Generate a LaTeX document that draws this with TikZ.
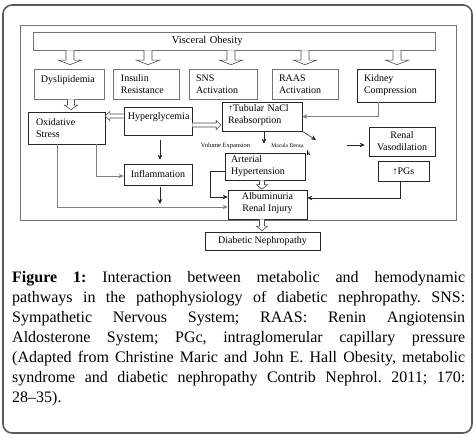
\documentclass[tikz,border=0pt]{standalone}
\usepackage{fontspec}
\setmainfont{Liberation Serif}
\usetikzlibrary{arrows.meta,calc}
\newcommand\hdown[5]{\draw[hol] let \p1=(#1), \p2=(#2) in (\x1-#3pt,\y1) -- (\x1-#3pt,\y2+#5pt+4.5pt) -- (\x1-#4pt,\y2+#5pt+4.5pt) -- (\x1,\y2+#5pt) -- (\x1+#4pt,\y2+#5pt+4.5pt) -- (\x1+#3pt,\y2+#5pt+4.5pt) -- (\x1+#3pt,\y1);}
\newcommand\hleft[5]{\draw[hol] let \p1=(#1), \p2=(#2) in (\x1,\y1+#3pt) -- (\x2+#5pt+4.5pt,\y1+#3pt) -- (\x2+#5pt+4.5pt,\y1+#4pt) -- (\x2+#5pt,\y1) -- (\x2+#5pt+4.5pt,\y1-#4pt) -- (\x2+#5pt+4.5pt,\y1-#3pt) -- (\x1,\y1-#3pt);}
\newcommand\hright[5]{\draw[hol] let \p1=(#1), \p2=(#2) in (\x1,\y1+#3pt) -- (\x2-#5pt-4.5pt,\y1+#3pt) -- (\x2-#5pt-4.5pt,\y1+#4pt) -- (\x2-#5pt,\y1) -- (\x2-#5pt-4.5pt,\y1-#4pt) -- (\x2-#5pt-4.5pt,\y1-#3pt) -- (\x1,\y1-#3pt);}
\newcommand\rais[2]{\raisebox{#1}[\height][\depth]{#2}}
\tikzset{
  box/.style={draw=black!85, line width=0.6pt, inner sep=0pt, font=\fontsize{10}{12}\selectfont},
  gbox/.style={box, draw=black!55},
  arr/.style={-{Stealth[length=5pt,width=4.5pt]}, line width=0.6pt, draw=black!85},
  garr/.style={arr, draw=black!50},
  hol/.style={draw=black!70, line width=0.6pt, fill=white},
  small/.style={inner sep=0pt, font=\fontsize{6.5}{7}\selectfont},
}
\begin{document}
\begin{tikzpicture}[x=1pt,y=-1pt]
\useasboundingbox (0,0) rectangle (475,438);
% frames
\draw[draw=black!65, line width=1.6pt, rounded corners=9pt] (3,5) rectangle (472,433);
\draw[draw=black!55, line width=0.7pt] (20,25) rectangle (456,220);
% top box
\node[gbox, minimum width=402, minimum height=18, text width=402, align=left, font=\fontsize{10.5}{12}\selectfont] (visc) at (234,41) {\hspace*{139pt}Visceral Obesity};
% row 2
\node[gbox, minimum width=70, minimum height=30, text width=56, align=left] (dys) at (69,84) {\rais{3.5pt}{Dyslipidemia}};
\node[gbox, minimum width=66, minimum height=30, text width=50, align=left] (ins) at (146,84) {Insulin\\Resistance};
\node[gbox, minimum width=68, minimum height=30, text width=54, align=left] (sns) at (223,84) {SNS\\Activation};
\node[gbox, minimum width=66, minimum height=30, text width=52, align=left] (raas) at (305,84) {RAAS\\Activation};
\node[box, minimum width=78, minimum height=33, text width=64, align=left] (kid) at (396,85.5) {Kidney\\Compression};
% row 3
\node[box, minimum width=77, minimum height=32, text width=61, align=left] (ox) at (66.5,128) {Oxidative\\Stress};
\node[box, minimum width=68, minimum height=28, text width=60, align=left] (hyp) at (158,121) {\rais{3.5pt}{Hyperglycemia}};
\node[box, minimum width=80, minimum height=29, text width=68, align=left] (tub) at (262,116.5) {\rais{1pt}{↑Tubular NaCl}\\\rais{1pt}{Reabsorption}};
\node[box, minimum width=66, minimum height=29, align=center] (ren) at (402,141.5) {Renal\\Vasodilation};
\node[box, minimum width=51, minimum height=20, align=center] (pgs) at (403.5,171) {↑PGs};
\node[box, minimum width=68, minimum height=21, align=center] (infl) at (158,174.5) {Inflammation};
\node[box, minimum width=80, minimum height=27, text width=68, align=left] (art) at (265,166.5) {Arterial\\Hypertension};
\node[box, minimum width=79, minimum height=29, align=center] (alb) at (267.5,204.5) {\rais{1.5pt}{Albuminuria}\\\rais{1.5pt}{Renal Injury}};
\node[box, minimum width=115, minimum height=18, align=center] (dn) at (262.5,241) {Diabetic Nephropathy};
% small labels
\node[small, anchor=base] (ve) at (225.5,147.5) {Volume Expansion};
\node[small, anchor=base, font=\fontsize{5.6}{6}\selectfont] (mdl) at (287.5,147.5) {Macula Densa};
\node[small, anchor=base, font=\fontsize{7}{7}\selectfont\bfseries] (kk) at (308.5,156) {k};
% hollow arrows
\hdown{visc.south -| 70,0}{dys.north}{4}{11.5}{4}
\hdown{visc.south -| 148,0}{ins.north}{4}{11.5}{4}
\hdown{visc.south -| 231,0}{sns.north}{4}{11.5}{4}
\hdown{visc.south -| 305,0}{raas.north}{4}{11.5}{4}
\hdown{visc.south -| 397,0}{kid.north}{4}{11.5}{4}
\hdown{dys.south -| 71,0}{ox.north}{3.5}{6.5}{2}
\hleft{hyp.west |- 0,116}{ox.east}{2}{4.5}{0}
\hright{hyp.east |- 0,125}{tub.west}{2}{4.5}{1}
\hdown{art.south -| 262,0}{alb.north}{2.5}{5.5}{0.5}
\hdown{alb.south -| 262,0}{dn.north}{2.5}{5.5}{1}
% connectors
\draw[garr] (kid.south -| 378,0) |- (tub.east);
\draw[arr, shorten >=9pt] (tub.south -| 264,0) -- (art.north -| 264,0);
\coordinate (mdt) at (316,140);
\draw[arr] (tub.south east) -- (mdt);
\coordinate (rv0) at (347,145);
\draw[arr, shorten >=4pt] (rv0) -- (ren.west |- rv0);
\draw[arr] (pgs.south -| 400,0) |- (alb.east |- 0,198);
\draw[arr] (art.west |- 0,171) -- (210,171) |- (alb.west |- 0,197);
\draw[garr] (ox.south -| 96,0) |- (infl.west |- 0,176);
\draw[garr] (ox.south -| 57,0) |- (alb.west |- 0,207);
\draw[arr, shorten <=5pt, shorten >=4pt] (hyp.south -| 160,0) -- (infl.north -| 160,0);
\coordinate (jn) at (160,204);
\draw[arr, shorten <=2pt] (infl.south -| 160,0) -- (jn);
% caption
\node[anchor=north west, inner sep=0pt, text width=453pt, align=justify, font=\fontsize{16}{20}\selectfont\frenchspacing] (cap) at (12,271) {\noindent\textbf{Figure 1:} Interaction between metabolic and hemodynamic\linebreak pathways in the pathophysiology of diabetic nephropathy. SNS:\linebreak Sympathetic Nervous System; RAAS: Renin Angiotensin\linebreak Aldosterone System; PGc, intraglomerular capillary pressure\linebreak (Adapted from Christine Maric and John E. Hall Obesity, metabolic\linebreak syndrome and diabetic nephropathy Contrib Nephrol. 2011; 170:\linebreak 28–35).};
\end{tikzpicture}
\end{document}
